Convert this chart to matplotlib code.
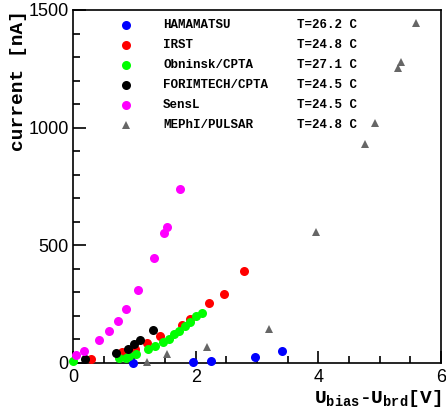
import matplotlib
matplotlib.use('Agg')
import matplotlib.pyplot as plt
from matplotlib.ticker import MultipleLocator

# data: overvoltage [V], current [nA]
ham_x = [0.98, 1.95, 2.25, 2.96, 3.41]
ham_y = [0, 3, 8, 24, 52]
irst_x = [0.30, 0.80, 1.01, 1.20, 1.42, 1.77, 1.90, 2.22, 2.46, 2.79]
irst_y = [17, 46, 61, 84, 115, 163, 187, 254, 293, 391]
obn_x = [0.0, 0.75, 0.86, 0.91, 1.03, 1.22, 1.34, 1.46, 1.56, 1.65, 1.73, 1.83, 1.90, 2.01, 2.10]
obn_y = [10, 20, 22, 28, 40, 58, 71, 88, 104, 122, 136, 158, 174, 200, 214]
for_x = [0.20, 0.70, 0.90, 1.00, 1.10, 1.30]
for_y = [17, 41, 58, 79, 96, 139]
sensl_x = [0.05, 0.18, 0.43, 0.59, 0.73, 0.87, 1.06, 1.32, 1.49, 1.53, 1.74]
sensl_y = [33, 51, 98, 137, 180, 231, 311, 445, 551, 577, 739]
meph_x = [1.20, 1.54, 2.18, 3.19, 3.96, 4.76, 4.92, 5.30, 5.35, 5.59]
meph_y = [3, 37, 69, 146, 558, 930, 1018, 1252, 1280, 1446]

names = ['HAMAMATSU', 'IRST', 'Obninsk/CPTA', 'FORIMTECH/CPTA', 'SensL', 'MEPhI/PULSAR']
temps = ['T=26.2 C', 'T=24.8 C', 'T=27.1 C', 'T=24.5 C', 'T=24.5 C', 'T=24.8 C']

plt.rcParams['mathtext.fontset'] = 'custom'
plt.rcParams['mathtext.rm'] = 'Liberation Mono:bold'
plt.rcParams['mathtext.it'] = 'Liberation Mono:bold'
plt.rcParams['mathtext.bf'] = 'Liberation Mono:bold'

fig = plt.figure(figsize=(4.46, 4.09), dpi=100)
ax = fig.add_axes([0.1637, 0.1125, 0.8251, 0.8631])

series = [(ham_x, ham_y, 'o', '#0000ff'),
          (irst_x, irst_y, 'o', '#ff0000'),
          (obn_x, obn_y, 'o', '#00ff00'),
          (for_x, for_y, 'o', '#000000'),
          (sensl_x, sensl_y, 'o', '#ff00ff'),
          (meph_x, meph_y, '^', '#666666')]

for xs, ys, m, c in series:
    if m == 'o':
        ax.plot(xs, ys, 'o', color=c, ms=6.5, mew=0, clip_on=False, zorder=3)
    else:
        ax.plot(xs, ys, '^', color=c, ms=5.5, mew=0, clip_on=False, zorder=3)

ax.set_xlim(0, 6)
ax.set_ylim(0, 1500)

# legend drawn by hand (no frame, ROOT style)
for i, (name, t) in enumerate(zip(names, temps)):
    yl = 0.957 - i * 0.0565
    xs, ys, m, c = series[i]
    ms = 6.5 if m == 'o' else 5.5
    ax.plot([0.144], [yl], m, color=c, ms=ms, mew=0, transform=ax.transAxes)
    ax.text(0.245, yl, name, transform=ax.transAxes, family='Liberation Mono',
            weight='bold', fontsize=9, va='center')
    ax.text(0.608, yl, t, transform=ax.transAxes, family='Liberation Mono',
            weight='bold', fontsize=9, va='center')

ax.xaxis.set_major_locator(MultipleLocator(2))
ax.xaxis.set_minor_locator(MultipleLocator(0.5))
ax.yaxis.set_major_locator(MultipleLocator(500))
ax.yaxis.set_minor_locator(MultipleLocator(100))
ax.tick_params(which='both', direction='in', top=False, right=False, width=1.2)
ax.tick_params(which='major', length=9, labelsize=13, pad=3)
ax.tick_params(which='minor', length=5)
ax.tick_params(axis='x', which='major', pad=4)
for lab in ax.get_xticklabels() + ax.get_yticklabels():
    lab.set_family('Liberation Sans')
for s in ax.spines.values():
    s.set_linewidth(1.2)

ax.set_ylabel('current [nA]', family='Liberation Mono', weight='bold',
              fontsize=14, loc='top', labelpad=1)
ax.set_xlabel(r'U$_{\mathrm{bias}}$-U$_{\mathrm{brd}}$[V]', family='Liberation Mono',
              weight='bold', fontsize=14, loc='right', labelpad=2)

plt.savefig('out.png', dpi=100)
